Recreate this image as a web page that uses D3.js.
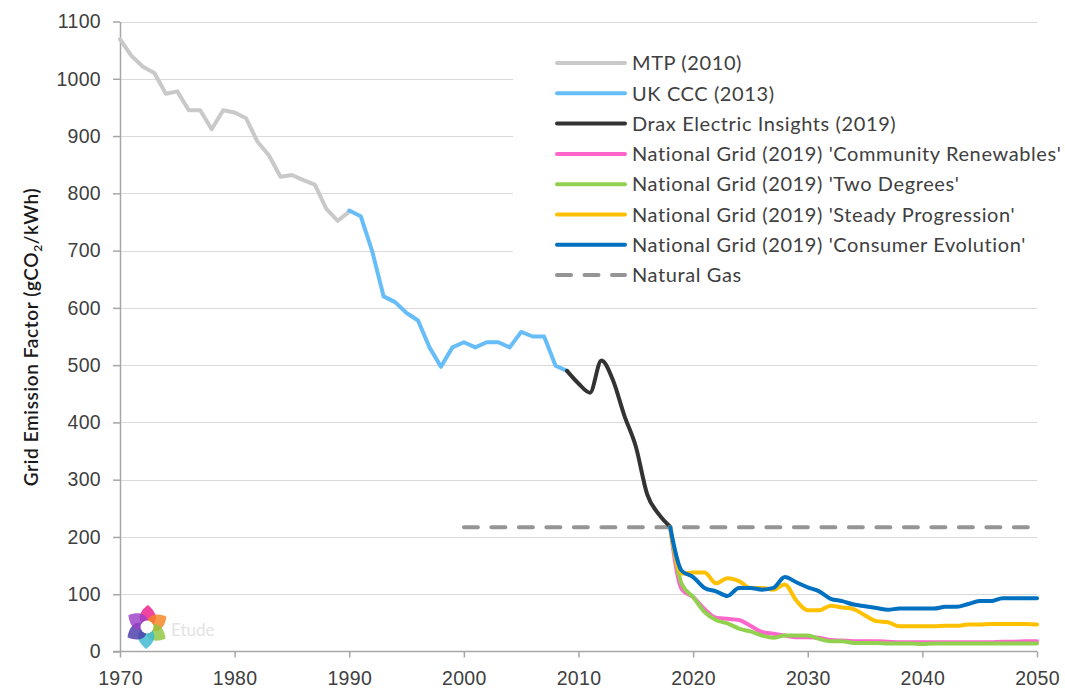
<!DOCTYPE html>
<html>
<head>
<meta charset="utf-8">
<script src="https://cdn.jsdelivr.net/npm/d3@7"></script>
<style>
  body { margin: 0; background: #fff; }
  svg { font-family: 'Lato', sans-serif; }
  .axis path, .axis line { stroke: #a6a6a6; stroke-width: 1.5px; }
  .axis text { fill: #404040; font-size: 19.5px; letter-spacing: 0.3px; }
  .grid line { stroke: #d9d9d9; stroke-width: 1px; }
  .series { fill: none; stroke-width: 4px; stroke-linejoin: round; stroke-linecap: round; }
  .legend text { fill: #404040; font-size: 20px; letter-spacing: 0.6px; }
</style>
</head>
<body>
<div id="chart"></div>
<script>
'use strict';

// data
var mtpYears = d3.range( 1970, 1991 );
var mtpValues = [ 1069, 1040, 1021, 1010, 974, 978, 945, 945, 912, 945, 941,
                  931, 890, 866, 829, 832, 823, 815, 773, 752, 768 ];

var cccYears = d3.range( 1990, 2010 );
var cccValues = [ 770, 760, 699, 620, 610, 591, 578, 531, 497, 531,
                  540, 531, 540, 540, 531, 558, 550, 550, 499, 490 ];

var draxYears = d3.range( 2009, 2019 );
var draxValues = [ 490, 468, 452, 508, 474, 412, 358, 274, 240, 218 ];

var ngYears = d3.range( 2018, 2051 );
var communityRenewables = [ 217, 109, 95, 74, 59, 57, 55, 45, 34, 31, 28, 25, 25, 24, 20, 19, 18,
                            18, 18, 17, 16, 16, 16, 16, 16, 16, 16, 16, 16, 17, 17, 18, 18 ];
var twoDegrees = [ 217, 118, 95, 69, 55, 49, 40, 35, 28, 24, 28, 28, 28, 22, 18, 18, 15,
                   15, 15, 14, 14, 14, 13, 14, 14, 14, 14, 14, 14, 14, 14, 14, 14 ];
var steadyProgression = [ 217, 136, 138, 138, 119, 128, 123, 111, 111, 108, 117, 89, 72, 72, 80, 77, 74,
                          63, 53, 51, 44, 44, 44, 44, 45, 45, 47, 47, 48, 48, 48, 48, 47 ];
var consumerEvolution = [ 217, 141, 130, 111, 105, 97, 111, 111, 108, 111, 130, 121, 112, 105, 92, 88, 82,
                          79, 76, 73, 75, 75, 75, 75, 78, 78, 83, 88, 88, 93, 93, 93, 93 ];

var gasYears = [ 2000, 2050 ];
var gasValues = [ 217, 217 ];

var xTicks = d3.range( 1970, 2051, 10 );
var yTicks = d3.range( 0, 1101, 100 );

var seriesNames = [ 'MTP (2010)', 'UK CCC (2013)', 'Drax Electric Insights (2019)',
  'National Grid (2019) \'Community Renewables\'', 'National Grid (2019) \'Two Degrees\'',
  'National Grid (2019) \'Steady Progression\'', 'National Grid (2019) \'Consumer Evolution\'',
  'Natural Gas' ];
var seriesColors = [ '#c9c9c9', '#66bdf7', '#333333', '#ff66cc', '#92d050', '#ffc000', '#0070c0', '#959595' ];

function zip( years, values ) {
  return years.map( function( yr, i ) { return { x: yr, y: values[i] }; } );
}

var series = [
  { name: seriesNames[0], color: seriesColors[0], data: zip( mtpYears, mtpValues ), smooth: false },
  { name: seriesNames[1], color: seriesColors[1], data: zip( cccYears, cccValues ), smooth: false },
  { name: seriesNames[2], color: seriesColors[2], data: zip( draxYears, draxValues ), smooth: true },
  { name: seriesNames[3], color: seriesColors[3], data: zip( ngYears, communityRenewables ), smooth: true },
  { name: seriesNames[4], color: seriesColors[4], data: zip( ngYears, twoDegrees ), smooth: true },
  { name: seriesNames[5], color: seriesColors[5], data: zip( ngYears, steadyProgression ), smooth: true },
  { name: seriesNames[6], color: seriesColors[6], data: zip( ngYears, consumerEvolution ), smooth: true }
];
var gasSeries = { name: seriesNames[7], color: seriesColors[7], data: zip( gasYears, gasValues ) };

var baseWidth = 1065,
    baseHeight = 690,
    plot = { left: 120, right: 1037, top: 21.5, bottom: 651.5 };

var svg = d3.select( '#chart' )
  .append( 'svg' )
    .attr( 'width', baseWidth )
    .attr( 'height', baseHeight );

var x = d3.scaleLinear()
    .domain( [ 1970, 2050 ] )
    .range( [ plot.left, plot.right ] );

var y = d3.scaleLinear()
    .domain( [ 0, 1100 ] )
    .range( [ plot.bottom, plot.top ] );

// gridlines
svg.append( 'g' )
  .classed( 'grid', true )
  .selectAll( 'line' )
  .data( yTicks.slice( 1 ) )
  .enter().append( 'line' )
    .attr( 'x1', plot.left )
    .attr( 'x2', plot.right )
    .attr( 'y1', function( d ) { return Math.round( y( d ) ) + 0.5; } )
    .attr( 'y2', function( d ) { return Math.round( y( d ) ) + 0.5; } );

// legend background hides the gridlines behind it
svg.append( 'rect' )
  .attr( 'x', 513 )
  .attr( 'y', 36 )
  .attr( 'width', baseWidth - 513 )
  .attr( 'height', 256 )
  .attr( 'fill', '#fff' );

// logo watermark
var logo = svg.append( 'g' )
  .attr( 'transform', 'translate(147,627)' );
var petalColors = [ '#ec1c8c', '#f58220', '#8dc63f', '#3bb7d3', '#4b3aa8', '#9b3ec8' ];
logo.selectAll( 'path' )
  .data( petalColors )
  .enter().append( 'path' )
    .attr( 'd', 'M-3,0 C-12,-6 -8,-15 -1,-21 C8,-15 12,-6 3,0 Z' )
    .attr( 'transform', function( d, i ) { return 'rotate(' + ( i * 60 + 5 ) + ') translate(0,-1)'; } )
    .attr( 'fill', function( d ) { return d; } )
    .attr( 'fill-opacity', 0.82 );
logo.append( 'circle' )
  .attr( 'r', 6.5 )
  .attr( 'fill', '#fff' );
logo.append( 'text' )
  .attr( 'x', 24 )
  .attr( 'y', 9 )
  .attr( 'fill', '#e3e3e3' )
  .style( 'font-size', '17px' )
  .text( 'Etude' );

// x axis
svg.append( 'g' )
  .classed( 'axis axis__x', true )
  .attr( 'transform', 'translate(0,' + plot.bottom + ')' )
  .call( d3.axisBottom( x )
    .tickValues( xTicks )
    .tickFormat( d3.format( 'd' ) )
    .tickSize( 6 )
    .tickSizeOuter( 0 )
  )
  .selectAll( 'text' )
    .attr( 'dy', '1.25em' );

// y axis
svg.append( 'g' )
  .classed( 'axis axis__y', true )
  .attr( 'transform', 'translate(' + plot.left + ',0)' )
  .call( d3.axisLeft( y )
    .tickValues( yTicks )
    .tickFormat( d3.format( 'd' ) )
    .tickSize( 7 )
    .tickSizeOuter( 0 )
    .tickPadding( 12 )
  );
svg.selectAll( '.axis .domain' ).attr( 'fill', 'none' );

// extend the x axis line to the left under the 0 tick
svg.select( '.axis__x .domain' )
  .attr( 'd', 'M' + ( plot.left - 7 ) + ',0H' + plot.right );

// y axis label
var yLabel = svg.append( 'text' )
  .attr( 'transform', 'translate(38,337) rotate(-90)' )
  .attr( 'text-anchor', 'middle' )
  .attr( 'fill', '#1a1a1a' )
  .style( 'font-size', '19px' )
  .style( 'letter-spacing', '0.6px' )
  .style( 'font-weight', 600 );
yLabel.append( 'tspan' ).text( 'Grid Emission Factor (gCO' );
yLabel.append( 'tspan' ).attr( 'dy', 4 ).style( 'font-size', '12px' ).text( '2' );
yLabel.append( 'tspan' ).attr( 'dy', -4 ).text( '/kWh)' );

var straight = d3.line()
  .x( function( d ) { return x( d.x ); } )
  .y( function( d ) { return y( d.y ); } );
var smooth = d3.line()
  .curve( d3.curveMonotoneX )
  .x( function( d ) { return x( d.x ); } )
  .y( function( d ) { return y( d.y ); } );

// natural gas reference
svg.append( 'path' )
  .classed( 'series', true )
  .attr( 'd', straight( gasSeries.data ) )
  .attr( 'stroke', gasSeries.color )
  .attr( 'stroke-dasharray', '14,13.5' )
  .attr( 'stroke-linecap', 'butt' );

series.forEach( function( s ) {
  svg.append( 'path' )
    .classed( 'series', true )
    .attr( 'd', ( s.smooth ? smooth : straight )( s.data ) )
    .attr( 'stroke', s.color );
} );

// legend
var legendItems = series.concat( [ gasSeries ] );
var legend = svg.append( 'g' )
  .classed( 'legend', true )
  .attr( 'transform', 'translate(557,63)' );
legendItems.forEach( function( s, i ) {
  var row = legend.append( 'g' )
    .attr( 'transform', 'translate(0,' + ( i * 30.3 ) + ')' );
  row.append( 'line' )
    .attr( 'x1', 0 )
    .attr( 'x2', 68 )
    .attr( 'stroke', s.color )
    .attr( 'stroke-width', 4 )
    .attr( 'stroke-linecap', 'round' )
    .attr( 'stroke-dasharray', s === gasSeries ? '14,13.5' : null );
  row.append( 'text' )
    .attr( 'x', 75 )
    .attr( 'dy', '0.36em' )
    .text( s.name );
} );
</script>
</body>
</html>
